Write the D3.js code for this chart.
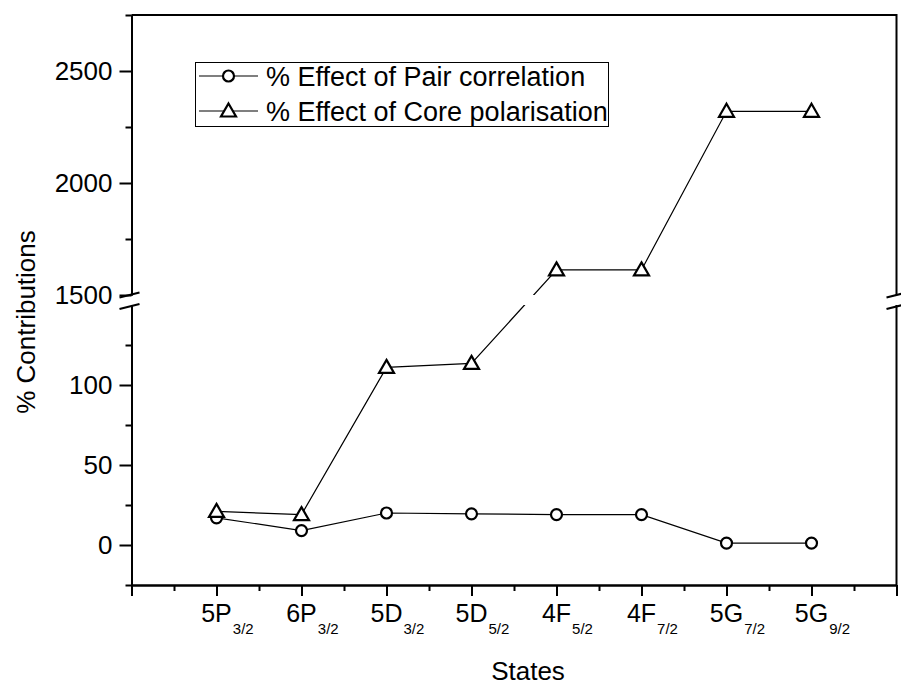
<!DOCTYPE html>
<html><head><meta charset="utf-8">
<script src="https://cdn.jsdelivr.net/npm/d3@7"></script>
<style>
html,body{margin:0;padding:0;background:#fff;}
svg{display:block;font-family:"Liberation Sans",Arial,sans-serif;}
</style></head>
<body>
<svg id="chart" width="901" height="687"></svg>
<script>
// ---- data ----
const states = ["5P", "6P", "5D", "5D", "4F", "4F", "5G", "5G"];
const stateSubs = ["3/2", "3/2", "3/2", "5/2", "5/2", "7/2", "7/2", "9/2"];
const pairCorrelation = [17, 9, 20, 19.5, 19, 19, 1.2, 1.2];
const corePolarisation = [21, 19, 111, 113.5, 1612, 1612, 2320, 2320];
const lowerMajorTicks = [0, 50, 100];
const lowerMinorTicks = [-25, 25, 75, 125];
const upperMajorTicks = [1500, 2000, 2500];
const upperMinorTicks = [1750, 2250, 2750];
const seriesNames = ["% Effect of Pair correlation", "% Effect of Core polarisation"];

const svg = d3.select("#chart");
const L = 131.5, R = 896.5, T = 15, B = 585;
const breakLow = 305, breakHigh = 295;

const x = d3.scaleLinear().domain([0, states.length + 1]).range([L, R]);
const yLow = d3.scaleLinear().domain([-25, 150]).range([B, breakLow]);
const yHigh = d3.scaleLinear().domain([1500, 2750]).range([breakHigh, T]);
const y = v => v <= 150 ? yLow(v) : yHigh(v);

const font = '"Liberation Sans",Arial,sans-serif';
const fmt = d3.format("d");

// clip for data lines (gap at break)
const defs = svg.append("defs");
const cp = defs.append("clipPath").attr("id", "gapclip");
cp.append("rect").attr("x", L).attr("y", T).attr("width", R - L).attr("height", breakHigh - T);
cp.append("rect").attr("x", L).attr("y", breakLow).attr("width", R - L).attr("height", B - breakLow);

// ---- axes ----
function styleAxis(g) {
  g.selectAll("path.domain").attr("stroke", "#000").attr("stroke-width", 2);
  g.selectAll(".tick line").attr("stroke", "#000").attr("stroke-width", 2);
  g.selectAll(".tick text").attr("fill", "#000").style("font-family", font).style("font-size", "26px");
}
// left lower
svg.append("g").attr("transform", `translate(${L},0)`)
  .call(d3.axisLeft(yLow).tickValues(lowerMajorTicks).tickSize(12).tickSizeOuter(0).tickPadding(7).tickFormat(fmt))
  .call(styleAxis);
svg.append("g").attr("transform", `translate(${L},0)`)
  .call(d3.axisLeft(yLow).tickValues(lowerMinorTicks).tickSize(6).tickSizeOuter(0).tickFormat(""))
  .call(styleAxis);
// left upper
svg.append("g").attr("transform", `translate(${L},0)`)
  .call(d3.axisLeft(yHigh).tickValues(upperMajorTicks).tickSize(12).tickSizeOuter(0).tickPadding(7).tickFormat(fmt))
  .call(styleAxis);
svg.append("g").attr("transform", `translate(${L},0)`)
  .call(d3.axisLeft(yHigh).tickValues(upperMinorTicks).tickSize(6).tickSizeOuter(0).tickFormat(""))
  .call(styleAxis);
// bottom
const majorX = d3.range(0, states.length + 2);
const minorX = d3.range(0, states.length + 1).map(d => d + 0.5);
svg.append("g").attr("transform", `translate(0,${B})`)
  .call(d3.axisBottom(x).tickValues(majorX).tickSize(11).tickSizeOuter(0).tickFormat(""))
  .call(styleAxis);
svg.append("g").attr("transform", `translate(0,${B})`)
  .call(d3.axisBottom(x).tickValues(minorX).tickSize(6).tickSizeOuter(0).tickFormat(""))
  .call(styleAxis);
// top and right frame
svg.append("line").attr("x1", L).attr("x2", R).attr("y1", T).attr("y2", T)
  .attr("stroke", "#000").attr("stroke-width", 2);
svg.append("line").attr("x1", R).attr("x2", R).attr("y1", T - 1).attr("y2", breakHigh)
  .attr("stroke", "#000").attr("stroke-width", 2);
svg.append("line").attr("x1", R).attr("x2", R).attr("y1", breakLow).attr("y2", B + 1)
  .attr("stroke", "#000").attr("stroke-width", 2);

// break marks
[L - 2, R].forEach(cx => {
  [breakHigh, breakLow + 1.5].forEach(cy => {
    svg.append("line").attr("x1", cx - 10).attr("y1", cy + 2.5).attr("x2", cx + 10).attr("y2", cy - 2.5)
      .attr("stroke", "#000").attr("stroke-width", 2);
  });
});

// x tick labels with subscripts
states.forEach((s, i) => {
  const cx = x(i + 1);
  const t = svg.append("text").attr("x", cx).attr("y", 622).attr("text-anchor", "middle")
    .style("font-family", font).style("font-size", "25px").attr("fill", "#000").text(s);
  const w = t.node().getComputedTextLength();
  svg.append("text").attr("x", cx + w / 2 + 1).attr("y", 634)
    .style("font-family", font).style("font-size", "15px").attr("fill", "#000").text(stateSubs[i]);
});

// axis titles
svg.append("text").attr("x", 528).attr("y", 680).attr("text-anchor", "middle")
  .style("font-family", font).style("font-size", "26px").attr("fill", "#000").text("States");
svg.append("text").attr("transform", "translate(35,322) rotate(-90)").attr("text-anchor", "middle")
  .style("font-family", font).style("font-size", "26px").attr("fill", "#000").text("% Contributions");

// ---- series ----
const line = d3.line().x((d, i) => x(i + 1)).y(d => y(d));
const triPath = "M0,-7.5L7.5,5.5L-7.5,5.5Z";

const gData = svg.append("g");
gData.append("path").datum(pairCorrelation).attr("d", line).attr("fill", "none")
  .attr("stroke", "#000").attr("stroke-width", 1.2).attr("clip-path", "url(#gapclip)");
gData.append("path").datum(corePolarisation).attr("d", line).attr("fill", "none")
  .attr("stroke", "#000").attr("stroke-width", 1.2).attr("clip-path", "url(#gapclip)");

gData.selectAll("circle.pc").data(pairCorrelation).join("circle").attr("class", "pc")
  .attr("cx", (d, i) => x(i + 1)).attr("cy", d => y(d)).attr("r", 5.5)
  .attr("fill", "#fff").attr("stroke", "#000").attr("stroke-width", 2.2);
gData.selectAll("path.cp").data(corePolarisation).join("path").attr("class", "cp")
  .attr("d", triPath).attr("transform", (d, i) => `translate(${x(i + 1)},${y(d)})`)
  .attr("fill", "#fff").attr("stroke", "#000").attr("stroke-width", 2.2);

// ---- legend ----
const lg = svg.append("g");
lg.append("rect").attr("x", 195.5).attr("y", 62.5).attr("width", 413).attr("height", 64)
  .attr("fill", "#fff").attr("stroke", "#000").attr("stroke-width", 1);
[0, 1].forEach(k => {
  const ly = 76 + k * 35;
  lg.append("line").attr("x1", 199).attr("x2", 258).attr("y1", ly).attr("y2", ly)
    .attr("stroke", "#000").attr("stroke-width", 1.2);
  if (k === 0) {
    lg.append("circle").attr("cx", 228.5).attr("cy", ly).attr("r", 5.5)
      .attr("fill", "#fff").attr("stroke", "#000").attr("stroke-width", 2.2);
  } else {
    lg.append("path").attr("d", triPath).attr("transform", `translate(228.5,${ly})`)
      .attr("fill", "#fff").attr("stroke", "#000").attr("stroke-width", 2.2);
  }
  lg.append("text").attr("x", 266).attr("y", ly + 9.5)
    .style("font-family", font).style("font-size", "27px").attr("fill", "#000").text(seriesNames[k]);
});
</script>
</body></html>
